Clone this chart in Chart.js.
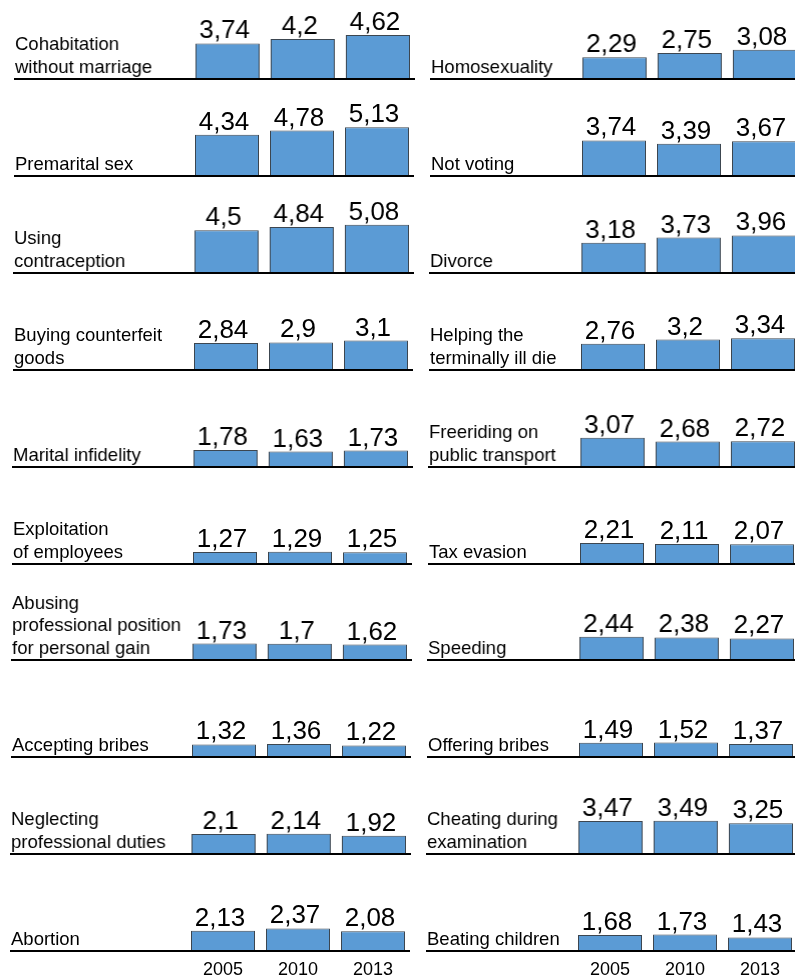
<!DOCTYPE html>
<html>
<head>
<meta charset="utf-8">
<script src="https://cdn.jsdelivr.net/npm/chart.js@4.4.1/dist/chart.umd.min.js"></script>
<style>
    html, body { margin: 0; padding: 0; background: #fff; overflow: hidden; }
    body { width: 795px; height: 978px; position: relative; }
    .panel { position: absolute; }
</style>
</head>
<body>
<script>
// Data: left column first (top to bottom), then right column
const years = ['2005', '2010', '2013'];

const topics = [
    ['Cohabitation', 'without marriage'],
    ['Premarital sex'],
    ['Using', 'contraception'],
    ['Buying counterfeit', 'goods'],
    ['Marital infidelity'],
    ['Exploitation', 'of employees'],
    ['Abusing', 'professional position', 'for personal gain'],
    ['Accepting bribes'],
    ['Neglecting', 'professional duties'],
    ['Abortion'],
    ['Homosexuality'],
    ['Not voting'],
    ['Divorce'],
    ['Helping the', 'terminally ill die'],
    ['Freeriding on', 'public transport'],
    ['Tax evasion'],
    ['Speeding'],
    ['Offering bribes'],
    ['Cheating during', 'examination'],
    ['Beating children'],
];

const values2005 = [3.74, 4.34, 4.5, 2.84, 1.78, 1.27, 1.73, 1.32, 2.1, 2.13,
                    2.29, 3.74, 3.18, 2.76, 3.07, 2.21, 2.44, 1.49, 3.47, 1.68];
const values2010 = [4.2, 4.78, 4.84, 2.9, 1.63, 1.29, 1.7, 1.36, 2.14, 2.37,
                    2.75, 3.39, 3.73, 3.2, 2.68, 2.11, 2.38, 1.52, 3.49, 1.73];
const values2013 = [4.62, 5.13, 5.08, 3.1, 1.73, 1.25, 1.62, 1.22, 1.92, 2.08,
                    3.08, 3.67, 3.96, 3.34, 2.72, 2.07, 2.27, 1.37, 3.25, 1.43];

const FONT = "'Liberation Sans', Arial, sans-serif";
const ROWS = 10;

function fmt(v) { return String(v).replace('.', ','); }

// draws label, value labels and the baseline
const panelPlugin = {
    id: 'panel',
    afterDatasetsDraw(chart, args, opts) {
        const ctx = chart.ctx;
        const area = chart.chartArea;
        ctx.save();
        ctx.fillStyle = '#000';

        ctx.font = '26px ' + FONT;
        ctx.textAlign = 'center';
        ctx.textBaseline = 'alphabetic';
        const meta = chart.getDatasetMeta(0);
        meta.data.forEach((bar, i) => {
            ctx.fillText(fmt(chart.data.datasets[0].data[i]), bar.x - 3, bar.y - 5);
        });

        ctx.font = '18.5px ' + FONT;
        ctx.textAlign = 'left';
        const lines = opts.lines;
        lines.forEach((t, i) => {
            ctx.fillText(t, 1, area.bottom - 6.5 - (lines.length - 1 - i) * 22.5);
        });

        ctx.strokeStyle = '#000';
        ctx.lineWidth = 2;
        ctx.beginPath();
        ctx.moveTo(0, area.bottom);
        ctx.lineTo(chart.width, area.bottom);
        ctx.stroke();
        ctx.restore();
    }
};

function buatPanel(idx) {
    const col = idx < ROWS ? 0 : 1;
    const row = idx % ROWS;
    const shift = -0.5 * row;
    const lineX = col === 0 ? 14 : 430;
    const barX = col === 0 ? 195 : 582;
    const baseY = 79 + row * 96.9;
    const isLast = row === ROWS - 1;
    const padLeft = barX - 5.5 - lineX;

    const div = document.createElement('div');
    div.className = 'panel';
    div.style.left = (lineX + shift) + 'px';
    div.style.top = (baseY - 95) + 'px';
    div.style.width = (padLeft + 225) + 'px';
    div.style.height = (95 + (isLast ? 30 : 2)) + 'px';
    const canvas = document.createElement('canvas');
    div.appendChild(canvas);
    document.body.appendChild(div);

    new Chart(canvas, {
        type: 'bar',
        data: {
            labels: years,
            datasets: [{
                data: [values2005[idx], values2010[idx], values2013[idx]],
                backgroundColor: '#5b9bd5',
                borderColor: '#3c4650',
                borderWidth: 1,
                borderSkipped: 'bottom',
                barPercentage: 64 / 75,
                categoryPercentage: 1,
            }],
        },
        options: {
            responsive: true,
            maintainAspectRatio: false,
            animation: false,
            layout: { padding: { left: padLeft, right: 0, top: 0, bottom: isLast ? 0 : 2 } },
            plugins: {
                legend: { display: false },
                tooltip: { enabled: false },
                panel: { lines: topics[idx] },
            },
            scales: {
                x: {
                    display: isLast,
                    grid: { display: false, drawTicks: false },
                    border: { display: false },
                    ticks: { color: '#000', font: { family: FONT, size: 18 }, padding: 8 },
                    afterFit: s => { if (isLast) s.height = 30; },
                },
                y: { display: false, min: 0, max: 10 },
            },
        },
        plugins: [panelPlugin],
    });
}

for (let i = 0; i < topics.length; i++) buatPanel(i);
</script>
</body>
</html>
